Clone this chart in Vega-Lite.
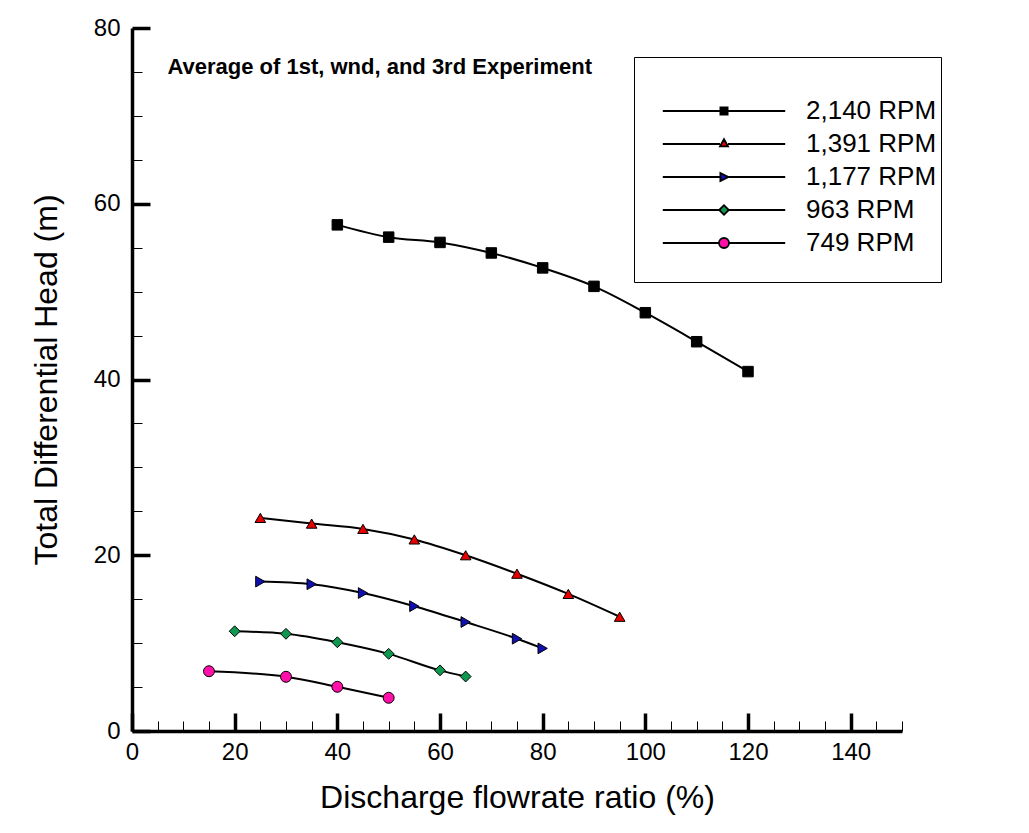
{
  "$schema": "https://vega.github.io/schema/vega-lite/v6.json",
  "width": 770,
  "height": 703,
  "autosize": "none",
  "padding": {"left": 132, "top": 28, "right": 127, "bottom": 102},
  "background": "white",
  "config": {
    "view": {"stroke": null},
    "font": "Liberation Sans",
    "axis": {"grid": false, "domainColor": "black", "tickColor": "black", "labelColor": "black", "titleColor": "black", "labelFont": "Liberation Sans", "titleFont": "Liberation Sans", "titleFontWeight": "normal"}
  },
  "data": {
    "values": [
      {"rpm": "2,140 RPM", "q": 40, "h": 57.6},
      {"rpm": "2,140 RPM", "q": 50, "h": 56.2},
      {"rpm": "2,140 RPM", "q": 60, "h": 55.6},
      {"rpm": "2,140 RPM", "q": 70, "h": 54.4},
      {"rpm": "2,140 RPM", "q": 80, "h": 52.7},
      {"rpm": "2,140 RPM", "q": 90, "h": 50.6},
      {"rpm": "2,140 RPM", "q": 100, "h": 47.6},
      {"rpm": "2,140 RPM", "q": 110, "h": 44.3},
      {"rpm": "2,140 RPM", "q": 120, "h": 40.9},
      {"rpm": "1,391 RPM", "q": 25, "h": 24.25},
      {"rpm": "1,391 RPM", "q": 35, "h": 23.6},
      {"rpm": "1,391 RPM", "q": 45, "h": 23.0},
      {"rpm": "1,391 RPM", "q": 55, "h": 21.8},
      {"rpm": "1,391 RPM", "q": 65, "h": 20.0},
      {"rpm": "1,391 RPM", "q": 75, "h": 17.9},
      {"rpm": "1,391 RPM", "q": 85, "h": 15.6},
      {"rpm": "1,391 RPM", "q": 95, "h": 13.0},
      {"rpm": "1,177 RPM", "q": 25, "h": 17.0},
      {"rpm": "1,177 RPM", "q": 35, "h": 16.7},
      {"rpm": "1,177 RPM", "q": 45, "h": 15.7},
      {"rpm": "1,177 RPM", "q": 55, "h": 14.2},
      {"rpm": "1,177 RPM", "q": 65, "h": 12.4},
      {"rpm": "1,177 RPM", "q": 75, "h": 10.5},
      {"rpm": "1,177 RPM", "q": 80, "h": 9.4},
      {"rpm": "963 RPM", "q": 20, "h": 11.35},
      {"rpm": "963 RPM", "q": 30, "h": 11.06},
      {"rpm": "963 RPM", "q": 40, "h": 10.1},
      {"rpm": "963 RPM", "q": 50, "h": 8.78},
      {"rpm": "963 RPM", "q": 60, "h": 6.9},
      {"rpm": "963 RPM", "q": 65, "h": 6.2},
      {"rpm": "749 RPM", "q": 15, "h": 6.8},
      {"rpm": "749 RPM", "q": 30, "h": 6.17},
      {"rpm": "749 RPM", "q": 40, "h": 5.03},
      {"rpm": "749 RPM", "q": 50, "h": 3.78}
    ]
  },
  "layer": [
    {
      "mark": {"type": "line", "color": "black", "strokeWidth": 2, "interpolate": "monotone"},
      "encoding": {
        "x": {"field": "q", "type": "quantitative", "scale": {"domain": [0, 150], "nice": false, "zero": false},
          "axis": {"values": [0, 20, 40, 60, 80, 100, 120, 140], "tickSize": -18, "tickWidth": 3.5, "domainWidth": 3.5, "labelFontSize": 24, "labelPadding": 27, "labelFlush": false, "labelOverlap": false, "title": "Discharge flowrate ratio (%)", "titleFontSize": 32, "titlePadding": 18}},
        "y": {"field": "h", "type": "quantitative", "scale": {"domain": [0, 80], "nice": false, "zero": false},
          "axis": {"values": [0, 20, 40, 60, 80], "tickSize": -18, "tickWidth": 3.5, "domainWidth": 3.5, "labelFontSize": 24, "labelPadding": 30, "labelFlush": false, "labelOverlap": false, "title": "Total Differential Head (m)", "titleFontSize": 32, "titlePadding": 30}},
        "detail": {"field": "rpm", "type": "nominal"}
      }
    },
    {
      "mark": {"type": "point", "filled": true, "stroke": "black", "strokeWidth": 1, "opacity": 1},
      "encoding": {
        "x": {"field": "q", "type": "quantitative",
          "axis": {"orient": "bottom", "values": [5, 10, 15, 25, 30, 35, 45, 50, 55, 65, 70, 75, 85, 90, 95, 105, 110, 115, 125, 130, 135, 145, 150], "tickSize": -10, "tickWidth": 1, "domain": false, "labels": false, "title": null}},
        "y": {"field": "h", "type": "quantitative",
          "axis": {"orient": "left", "values": [5, 10, 15, 25, 30, 35, 45, 50, 55, 65, 70, 75], "tickSize": -10, "tickWidth": 1, "domain": false, "labels": false, "title": null}},
        "fill": {"field": "rpm", "type": "nominal", "legend": null,
          "scale": {"domain": ["2,140 RPM", "1,391 RPM", "1,177 RPM", "963 RPM", "749 RPM"], "range": ["#000000", "#e60000", "#1010b0", "#109850", "#ff10a8"]}},
        "shape": {"field": "rpm", "type": "nominal", "legend": null,
          "scale": {"domain": ["2,140 RPM", "1,391 RPM", "1,177 RPM", "963 RPM", "749 RPM"], "range": ["square", "triangle-up", "triangle-right", "diamond", "circle"]}},
        "size": {"field": "rpm", "type": "nominal", "legend": null,
          "scale": {"domain": ["749 RPM", "963 RPM", "1,177 RPM", "1,391 RPM", "2,140 RPM"], "range": [120, 110, 95, 95, 64]}}
      }
    },
    {
      "transform": [{"filter": "false"}],
      "mark": {"type": "point", "filled": true, "stroke": "black", "strokeWidth": 1.8, "strokeOpacity": 1, "opacity": 1},
      "encoding": {
        "x": {"field": "q", "type": "quantitative", "axis": null},
        "y": {"field": "h", "type": "quantitative", "axis": null},
        "fill": {"field": "rpm", "type": "nominal",
          "scale": {"domain": ["2,140 RPM", "1,391 RPM", "1,177 RPM", "963 RPM", "749 RPM"], "range": ["#000000", "#e60000", "#1010b0", "#109850", "#ff10a8"]},
          "legend": {"orient": "none", "legendX": 502, "legendY": 29, "title": " ", "titleFontSize": 1, "titlePadding": 36, "padding": 4, "strokeColor": "black", "fillColor": "white", "labelFont": "Liberation Sans", "labelFontSize": 26, "labelColor": "black", "labelOffset": 69, "symbolSize": 64, "symbolOffset": 73, "rowPadding": 7, "symbolStrokeWidth": 1.8, "symbolOpacity": 1}},
        "shape": {"field": "rpm", "type": "nominal",
          "scale": {"domain": ["2,140 RPM", "1,391 RPM", "1,177 RPM", "963 RPM", "749 RPM"], "range": ["M-15.3,0H-0.9M0.9,0H15.3M-0.9,-0.9H0.9V0.9H-0.9Z", "M-15.3,0H-1M1,0H15.3M0,-1.2L1,0.6H-1Z", "M-15.3,0H-0.9M1,0H15.3M-0.9,-1L1.1,0L-0.9,1Z", "M-15.3,0H-1.2M1.2,0H15.3M-1.2,0L0,-1.2L1.2,0L0,1.2Z", "M-15.3,0H-1.25M1.25,0H15.3M-1.25,0A1.25,1.25,0,1,0,1.25,0A1.25,1.25,0,1,0,-1.25,0ZM0,7.75"]},
          "legend": {"orient": "none", "legendX": 502, "legendY": 29, "title": " ", "titleFontSize": 1, "titlePadding": 36, "padding": 4, "strokeColor": "black", "fillColor": "white", "labelFont": "Liberation Sans", "labelFontSize": 26, "labelColor": "black", "labelOffset": 69, "symbolSize": 64, "symbolOffset": 73, "rowPadding": 7, "symbolStrokeWidth": 1.8, "symbolOpacity": 1}}
      }
    },
    {
      "data": {"values": [{"label": "Average of 1st, wnd, and 3rd Experiment"}]},
      "mark": {"type": "text", "align": "left", "baseline": "middle", "font": "Liberation Sans", "fontWeight": "bold", "fontSize": 22, "color": "black"},
      "encoding": {
        "x": {"datum": 6.9, "type": "quantitative", "axis": null},
        "y": {"datum": 75.6, "type": "quantitative", "axis": null},
        "text": {"field": "label", "type": "nominal"}
      }
    }
  ],
  "resolve": {"scale": {"shape": "independent", "fill": "independent", "size": "independent"}, "axis": {"x": "independent", "y": "independent"}}
}
